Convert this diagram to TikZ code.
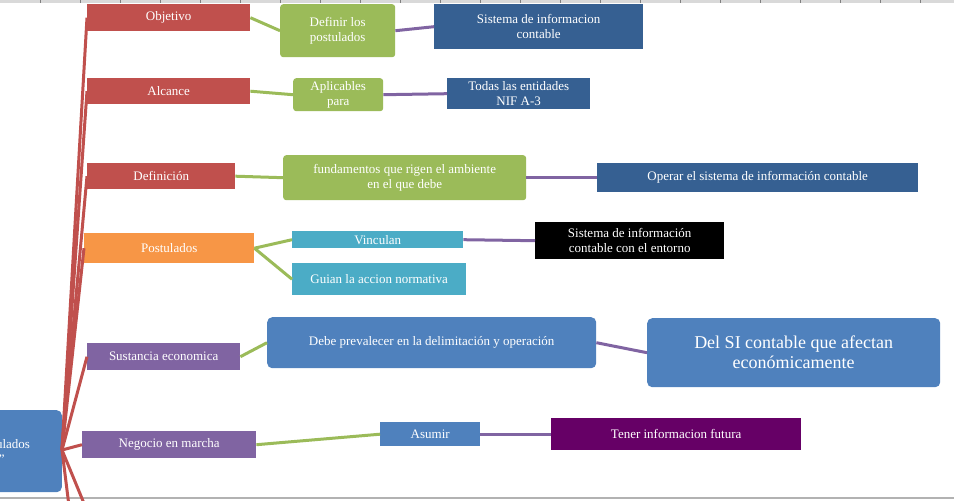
\documentclass[tikz,border=0pt]{standalone}
\usepackage{fontspec}
\setmainfont{Liberation Serif}
\begin{document}
\begin{tikzpicture}[x=1pt,y=-1pt,
 bx/.style={draw=none,text=white,align=center,font=\fontsize{13}{15}\selectfont,inner sep=0pt},
 rd/.style={bx,fill={rgb,255:red,192;green,80;blue,77}},
 gr/.style={bx,fill={rgb,255:red,155;green,187;blue,89},rounded corners=3pt},
 db/.style={bx,fill={rgb,255:red,54;green,96;blue,146}},
 lb/.style={bx,fill={rgb,255:red,79;green,129;blue,189},rounded corners=5pt},
 tl/.style={bx,fill={rgb,255:red,75;green,172;blue,198}},
 pu/.style={bx,fill={rgb,255:red,128;green,100;blue,162}},
 rl/.style={draw={rgb,255:red,192;green,80;blue,77},line width=3pt},
 gl/.style={draw={rgb,255:red,155;green,187;blue,89},line width=3pt},
 pl/.style={draw={rgb,255:red,128;green,100;blue,162},line width=3pt}]
\useasboundingbox (0,0) rectangle (954,501);
\begin{scope}
\clip (0,0) rectangle (954,501);
\fill[gray!30] (0,0) rectangle (954,3);
\foreach \i in {40,80,...,940} \draw[gray] (\i,0)--(\i,3);
\fill[gray!60] (0,497) rectangle (954,499);
\node[lb,minimum width=120,minimum height=82,anchor=north east,text width=110] (c) at (62,410) {Postulados\\ ”};
\coordinate (h) at (62,450);
\coordinate (o1) at (72,530);
\coordinate (o2) at (95,530);
\node[rd,minimum width=163,minimum height=27,anchor=north west] (obj) at (87,4) {Objetivo};
\node[rd,minimum width=163,minimum height=26,anchor=north west] (alc) at (87,78) {Alcance};
\node[rd,minimum width=148,minimum height=26,anchor=north west] (def) at (87,163) {Definición};
\node[bx,fill={rgb,255:red,247;green,150;blue,70},minimum width=170,minimum height=30,anchor=north west] (pos) at (84,233) {Postulados};
\node[pu,minimum width=153,minimum height=27,anchor=north west] (sus) at (87,343) {Sustancia economica};
\node[pu,minimum width=174,minimum height=27,anchor=north west] (neg) at (82,431) {Negocio en marcha};
\foreach \n in {obj,alc,def,pos,sus,neg} \draw[rl] (h) -- (\n.west);
\draw[rl] (h) -- (o1); \draw[rl] (h) -- (o2);
\node[gr,minimum width=115,minimum height=53,anchor=north west] (dlp) at (280,4) {Definir los\\postulados};
\node[db,minimum width=209,minimum height=45,anchor=north west] (sic) at (434,4) {Sistema  de informacion\\contable};
\node[gr,minimum width=90,minimum height=33,anchor=north west] (apl) at (293,78) {Aplicables\\para};
\node[db,minimum width=143,minimum height=31,anchor=north west] (tod) at (447,78) {Todas las  entidades\\NIF A-3};
\node[gr,minimum width=243,minimum height=45,anchor=north west] (fun) at (283,155) {fundamentos  que rigen el ambiente\\en el que debe};
\node[db,minimum width=321,minimum height=29,anchor=north west] (ope) at (597,163) {Operar el sistema  de información contable};
\node[tl,minimum width=171,minimum height=17,anchor=north west] (vin) at (292,231) {Vinculan};
\node[tl,minimum width=174,minimum height=32,anchor=north west] (gui) at (292,263) {Guian  la accion normativa};
\node[bx,fill=black,minimum width=189,minimum height=37,anchor=north west] (sie) at (535,222) {Sistema  de información\\contable con el entorno};
\node[lb,minimum width=329,minimum height=51,anchor=north west] (deb) at (267,317) {Debe prevalecer  en la delimitación  y operación};
\node[lb,font=\fontsize{18}{20}\selectfont,minimum width=293,minimum height=69,anchor=north west] (del) at (647,318) {Del SI contable que afectan\\económicamente};
\node[lb,rounded corners=0pt,minimum width=100,minimum height=24,anchor=north west] (asu) at (380,422) {Asumir};
\node[bx,fill={rgb,255:red,102;green,0;blue,102},minimum width=250,minimum height=32,anchor=north west] (ten) at (551,418) {Tener informacion futura};
\draw[gl] (obj.east) -- (dlp.west);
\draw[gl] (alc.east) -- (apl.west);
\draw[gl] (def.east) -- (fun.west);
\draw[gl] (pos.east) -- (vin.west);
\draw[gl] (pos.east) -- (gui.west);
\draw[gl] (sus.east) -- (deb.west);
\draw[gl] (neg.east) -- (asu.west);
\draw[pl] (dlp.east) -- (sic.west);
\draw[pl] (apl.east) -- (tod.west);
\draw[pl] (fun.east) -- (ope.west);
\draw[pl] (vin.east) -- (sie.west);
\draw[pl] (deb.east) -- (del.west);
\draw[pl] (asu.east) -- (ten.west);
\end{scope}
\end{tikzpicture}
\end{document}
